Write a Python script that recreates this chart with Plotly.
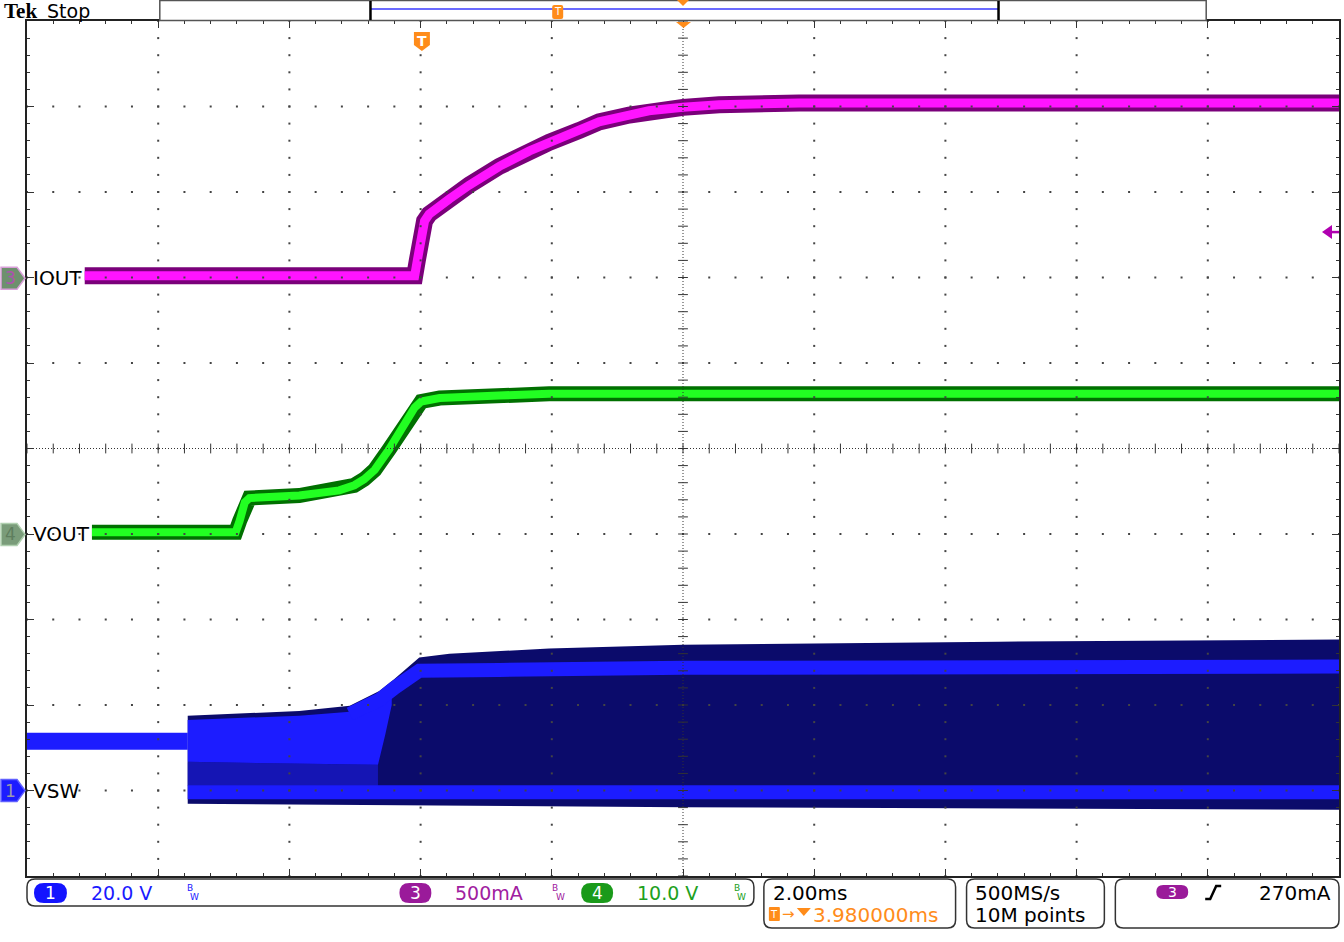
import plotly.graph_objects as go

# ---------------- scope settings ----------------
T_DIV = 2.0            # ms / div
T_CENTER = 3.98        # ms, horizontal position (trigger at t = 0)
XMIN = T_CENTER - 5 * T_DIV
XMAX = T_CENTER + 5 * T_DIV

CH1_SCALE, CH1_POS = 20.0, -4.0   # VSW  : V/div, ground position (div)
CH3_SCALE, CH3_POS = 0.5, 2.0     # IOUT : A/div
CH4_SCALE, CH4_POS = 10.0, -1.0   # VOUT : V/div
TRIG_LEVEL = 0.27                 # A (ch3)

# ---------------- data (time in ms relative to trigger) ----------------
iout_t = [-5.14, -0.11, -0.07, -0.02, 0.04, 0.11, 0.27, 0.42, 0.72, 1.18, 1.64,
          1.94, 2.40, 2.70, 3.16, 3.46, 3.98, 4.53, 5.75, 13.98]
iout_a = [0.01, 0.01, 0.10, 0.22, 0.33, 0.37, 0.42, 0.46, 0.54, 0.65, 0.74,
          0.79, 0.86, 0.91, 0.95, 0.975, 0.995, 1.01, 1.02, 1.02]

vout_t = [-5.03, -2.84, -2.78, -2.70, -2.63, -1.87, -1.26, -1.03, -0.88, -0.72,
          -0.50, -0.27, -0.11, -0.01, 0.27, 1.18, 1.94, 3.98, 13.98]
vout_v = [0.2, 0.2, 1.5, 3.7, 4.2, 4.5, 5.1, 5.7, 6.4, 7.5,
          9.9, 12.8, 14.8, 15.5, 15.9, 16.2, 16.4, 16.4, 16.4]

vsw_pre_t = [-6.02, -3.57]
vsw_pre_v = [11.5, 11.5]
vsw_top_t = [-3.57, -1.87, -1.10, -0.88, -0.65, -0.42, -0.19, -0.04, 0.42, 1.94, 3.98, 8.79, 13.98]
vsw_top_v = [17.5, 18.6, 19.8, 21.5, 23.3, 26.1, 29.2, 31.1, 32.0, 33.2, 34.1, 34.8, 35.3]
vsw_bot_t = [-3.57, 3.98, 13.98]
vsw_bot_v = [-3.1, -3.9, -4.5]
vsw_high_t = [-1.10, -0.88, -0.65, -0.42, -0.19, -0.04, 1.18, 3.98, 13.98]
vsw_high_v = [17.9, 19.3, 21.2, 24.0, 26.6, 28.0, 28.2, 28.7, 29.0]
vsw_low_t = [-3.57, 13.98]
vsw_low_v = [-0.4, -0.4]
vsw_early_up_t = [-3.57, -1.87, -1.10, -0.88, -0.65, -0.46]
vsw_early_up_v = [16.5, 17.5, 18.4, 19.8, 21.7, 23.6]
vsw_early_lo_t = [-3.57, -0.80, -0.67, -0.56, -0.46]
vsw_early_lo_v = [6.7, 6.0, 6.0, 13.0, 20.0]
vsw_stria_t = [-3.57, -0.67]
vsw_stria_v = [1.1, 1.1]


def to_div(vals, scale, pos):
    return [v / scale + pos for v in vals]


# ---------------- figure geometry (pixels) ----------------
W, H = 1344, 942
PL, PR, PT, PB = 27, 1341, 21, 876
SANS = "DejaVu Sans"

NAVY = "#0b0b6b"
BLUE = "#1c1cff"
MID = "#1515b4"
MAG = "#ff14ff"
MAG_D = "#7a007a"
GRN = "#22ff22"
GRN_D = "#007000"
ORANGE = "#ff8c1a"


def fx(p):
    return (p - PL) / (PR - PL)


def fy(p):
    return (PB - p) / (PB - PT)


def P(x, y):
    return f"{fx(x):.5f},{fy(y):.5f}"


def poly(pts, close=True):
    return "M" + "L".join(P(x, y) for x, y in pts) + ("Z" if close else "")


def rrect(x0, y0, x1, y1, r):
    return (f"M{P(x0 + r, y0)}L{P(x1 - r, y0)}Q{P(x1, y0)} {P(x1, y0 + r)}"
            f"L{P(x1, y1 - r)}Q{P(x1, y1)} {P(x1 - r, y1)}"
            f"L{P(x0 + r, y1)}Q{P(x0, y1)} {P(x0, y1 - r)}"
            f"L{P(x0, y0 + r)}Q{P(x0, y0)} {P(x0 + r, y0)}Z")


fig = go.Figure()

# ---- VSW (channel 1) ----
fig.add_trace(go.Scatter(x=vsw_bot_t, y=to_div(vsw_bot_v, CH1_SCALE, CH1_POS),
                         mode="lines", line=dict(width=0, color=NAVY), hoverinfo="skip"))
fig.add_trace(go.Scatter(x=vsw_top_t, y=to_div(vsw_top_v, CH1_SCALE, CH1_POS),
                         mode="lines", line=dict(width=0, color=NAVY), fill="tonexty",
                         fillcolor=NAVY, hoverinfo="skip"))
fig.add_trace(go.Scatter(x=vsw_stria_t, y=to_div(vsw_stria_v, CH1_SCALE, CH1_POS),
                         mode="lines", line=dict(width=0, color=MID), hoverinfo="skip"))
fig.add_trace(go.Scatter(x=vsw_early_lo_t[:3], y=to_div(vsw_early_lo_v[:3], CH1_SCALE, CH1_POS),
                         mode="lines", line=dict(width=0, color=MID), fill="tonexty",
                         fillcolor=MID, hoverinfo="skip"))
fig.add_trace(go.Scatter(x=vsw_early_lo_t, y=to_div(vsw_early_lo_v, CH1_SCALE, CH1_POS),
                         mode="lines", line=dict(width=0, color=BLUE), hoverinfo="skip"))
fig.add_trace(go.Scatter(x=vsw_early_up_t, y=to_div(vsw_early_up_v, CH1_SCALE, CH1_POS),
                         mode="lines", line=dict(width=0, color=BLUE), fill="tonexty",
                         fillcolor=BLUE, hoverinfo="skip"))
fig.add_trace(go.Scatter(x=vsw_pre_t, y=to_div(vsw_pre_v, CH1_SCALE, CH1_POS),
                         mode="lines", line=dict(width=17, color=BLUE), hoverinfo="skip"))
fig.add_trace(go.Scatter(x=vsw_low_t, y=to_div(vsw_low_v, CH1_SCALE, CH1_POS),
                         mode="lines", line=dict(width=14, color=BLUE), hoverinfo="skip"))
fig.add_trace(go.Scatter(x=vsw_high_t, y=to_div(vsw_high_v, CH1_SCALE, CH1_POS),
                         mode="lines", line=dict(width=14, color=BLUE), hoverinfo="skip"))

# ---- VOUT (channel 4) ----
vy = to_div(vout_v, CH4_SCALE, CH4_POS)
fig.add_trace(go.Scatter(x=vout_t, y=vy, mode="lines", line=dict(width=15, color=GRN_D), hoverinfo="skip"))
fig.add_trace(go.Scatter(x=vout_t, y=vy, mode="lines", line=dict(width=8, color=GRN), hoverinfo="skip"))

# ---- IOUT (channel 3) ----
iy = to_div(iout_a, CH3_SCALE, CH3_POS)
fig.add_trace(go.Scatter(x=iout_t, y=iy, mode="lines", line=dict(width=17, color=MAG_D), hoverinfo="skip"))
fig.add_trace(go.Scatter(x=iout_t, y=iy, mode="lines", line=dict(width=9, color=MAG), hoverinfo="skip"))

# ---- graticule dots ----
gx, gy = [], []
for i in range(1, 10):
    if i == 5:
        continue
    for j in range(51):
        gx.append(XMIN + i * T_DIV)
        gy.append(-5 + j * 0.2)
for k in range(1, 10):
    if k == 5:
        continue
    for m in range(51):
        gx.append(XMIN + m * T_DIV / 5)
        gy.append(-5 + k)
fig.add_trace(go.Scatter(x=gx, y=gy, mode="markers",
                         marker=dict(symbol="square", size=2, color="#444444", line=dict(width=0)),
                         hoverinfo="skip"))
# center cross ticks
cx = [T_CENTER] * 51
cy = [-5 + j * 0.2 for j in range(51)]
fig.add_trace(go.Scatter(x=cx, y=cy, mode="markers",
                         marker=dict(symbol="line-ew", size=7, line=dict(width=1, color="#333333")),
                         hoverinfo="skip"))
hx = [XMIN + m * T_DIV / 5 for m in range(51)]
hy = [0] * 51
fig.add_trace(go.Scatter(x=hx, y=hy, mode="markers",
                         marker=dict(symbol="line-ns", size=7, line=dict(width=1, color="#333333")),
                         hoverinfo="skip"))

shapes = []
ann = []

# center lines
shapes.append(dict(type="line", xref="x", yref="y", x0=T_CENTER, x1=T_CENTER, y0=-5, y1=5,
                   line=dict(color="#333333", width=1, dash="1px,2px"), layer="above"))
shapes.append(dict(type="line", xref="x", yref="y", x0=XMIN, x1=XMAX, y0=0, y1=0,
                   line=dict(color="#333333", width=1, dash="1px,2px"), layer="above"))


def shp(path, fill, lc=None, lw=0):
    shapes.append(dict(type="path", path=path, xref="paper", yref="paper", fillcolor=fill,
                       line=dict(color=lc or fill, width=lw), layer="above"))


def line_px(x0, y0, x1, y1, color, width):
    shapes.append(dict(type="line", xref="paper", yref="paper", x0=fx(x0), y0=fy(y0),
                       x1=fx(x1), y1=fy(y1), line=dict(color=color, width=width), layer="above"))


def txt(s, x, y, color="black", size=19, xa="left", family=SANS, bg=None):
    d = dict(text=s, x=fx(x), y=fy(y), xref="paper", yref="paper", showarrow=False,
             xanchor=xa, yanchor="middle", font=dict(color=color, size=size, family=family))
    if bg:
        d["bgcolor"] = bg
    ann.append(d)


# ---- channel markers and labels ----
def ch_marker(yc, fill, border, num, ncol):
    shp(poly([(1, yc - 11), (17, yc - 11), (25, yc), (17, yc + 11), (1, yc + 11)]), fill, border, 1.5)
    txt(num, 10, yc, ncol, 17, "center")


y3 = 449 - CH3_POS * 85.4
y4 = 449 - CH4_POS * 85.4
y1 = 449 - CH1_POS * 85.4
ch_marker(y3, "#6e906e", "#d9a0d9", "3", "#b050b0")
ch_marker(y4, "#7a9c7a", "#b0d0b0", "4", "#5e7e5e")
ch_marker(y1, "#1c1cff", "#6060ff", "1", "#9a9aaa")
txt("IOUT", 31, y3, "black", 20)
txt("VOUT", 31, y4, "black", 20)
txt("VSW", 31, y1, "black", 20)

# trigger level arrow (right side)
yt = 449 - (TRIG_LEVEL / CH3_SCALE + CH3_POS) * 85.4
shp(poly([(1324, yt), (1334, yt - 7), (1334, yt + 7)]), "#b000b0")
line_px(1333, yt, 1341, yt, "#b000b0", 2.5)

# ---- top record bar ----
shp(poly([(160, 0.5), (1208, 0.5), (1208, 20.5), (160, 20.5)]), "white", "#555555", 1.5)
line_px(371, 9, 1000, 9, "#3a3aff", 1.5)
line_px(371, 1, 371, 20, "black", 2.5)
line_px(1000, 1, 1000, 20, "black", 2.5)
shp(rrect(553, 5, 564, 19, 2), ORANGE)
txt("T", 558.5, 12, "white", 10, "center")
shp(poly([(678, 0), (690, 0), (684, 6)]), ORANGE)
shp(poly([(677, 22), (692, 22), (684.5, 28)]), ORANGE)
px_trig = PL + (0 - XMIN) / (XMAX - XMIN) * (PR - PL)
shp(poly([(px_trig - 8, 32), (px_trig + 8, 32), (px_trig + 8, 45), (px_trig, 51), (px_trig - 8, 45)]), ORANGE)
txt("<b>T</b>", px_trig, 41, "white", 14, "center")

txt("<b>Tek</b>", 2, 11, "black", 21, "left", "Liberation Serif")
txt("Stop", 45, 11, "black", 19)

# ---- bottom readouts ----
BOX = "#333333"
shp(rrect(27, 879, 755, 906, 8), "white", BOX, 1.5)
shp(rrect(765, 879, 957, 928, 8), "white", BOX, 1.5)
shp(rrect(968, 879, 1106, 928, 8), "white", BOX, 1.5)
shp(rrect(1117, 879, 1341, 928, 8), "white", BOX, 1.5)

shp(rrect(34, 883, 67, 903, 10), "#1414ff")
txt("1", 50.5, 893, "white", 17, "center")
txt("20.0 V", 89, 893, "#1a1aff", 19)
txt("B", 190, 888, "#1a1aff", 9, "center")
txt("W", 195, 897, "#1a1aff", 9, "center")

shp(rrect(400, 883, 432, 903, 10), "#9a1a9a")
txt("3", 416, 893, "white", 17, "center")
txt("500mA", 454, 893, "#a020a0", 19)
txt("B", 556, 888, "#a020a0", 9, "center")
txt("W", 561, 897, "#a020a0", 9, "center")

shp(rrect(582, 883, 614, 903, 10), "#1a9a1a")
txt("4", 598, 893, "white", 17, "center")
txt("10.0 V", 636, 893, "#20a020", 19)
txt("B", 738, 888, "#20a020", 9, "center")
txt("W", 743, 897, "#20a020", 9, "center")

txt("2.00ms", 772, 893, "black", 20)
shp(rrect(770, 907, 781, 921, 1), ORANGE)
txt("T", 775.5, 914, "white", 10, "center")
txt("\u2192", 781, 914, ORANGE, 15)
shp(poly([(798, 908), (812, 908), (805, 916)]), ORANGE)
txt("3.980000ms", 812, 915, ORANGE, 20)

txt("500MS/s", 974, 893, "black", 20)
txt("10M points", 974, 915, "black", 20)

shp(rrect(1158, 885, 1190, 899, 7), "#9a1a9a")
txt("3", 1174, 892, "white", 14, "center")
shapes.append(dict(type="path", path=poly([(1207, 899), (1212, 899), (1218, 886), (1223, 886)], close=False),
                   xref="paper", yref="paper", line=dict(color="black", width=2.5), layer="above"))
txt("270mA", 1335, 893, "black", 20, "right")

fig.update_layout(
    width=W, height=H,
    margin=dict(l=PL, r=W - PR, t=PT, b=H - PB, pad=0),
    paper_bgcolor="white", plot_bgcolor="white",
    showlegend=False,
    shapes=shapes, annotations=ann,
    xaxis=dict(range=[XMIN, XMAX], showgrid=False, zeroline=False, showticklabels=False,
               showline=True, linecolor="#222222", linewidth=2, mirror="allticks",
               ticks="inside", ticklen=7, tickwidth=1, tickcolor="#333333",
               tick0=XMIN, dtick=T_DIV,
               minor=dict(ticks="inside", ticklen=3, tickwidth=1, tickcolor="#333333",
                          tick0=XMIN, dtick=T_DIV / 5)),
    yaxis=dict(range=[-5, 5], showgrid=False, zeroline=False, showticklabels=False,
               showline=True, linecolor="#222222", linewidth=2, mirror="allticks",
               ticks="inside", ticklen=7, tickwidth=1, tickcolor="#333333",
               tick0=-5, dtick=1,
               minor=dict(ticks="inside", ticklen=3, tickwidth=1, tickcolor="#333333",
                          tick0=-5, dtick=0.2)),
)

fig.write_html("out.html", config={"displayModeBar": False},
               post_script="document.body.style.margin='0';")
